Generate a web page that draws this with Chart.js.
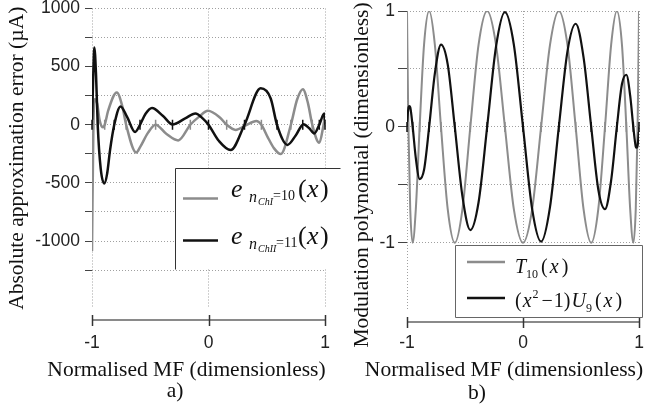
<!DOCTYPE html>
<html>
<head>
<meta charset="utf-8">
<script src="https://cdn.jsdelivr.net/npm/chart.js@4.4.0/dist/chart.umd.min.js"></script>
<style>
html, body { margin: 0; padding: 0; background: #fff; overflow: hidden; width: 646px; height: 412px; }
canvas { position: absolute; top: 0; }
#chartA { left: 0; }
#chartB { left: 330px; }
</style>
</head>
<body>
<canvas id="chartA" width="373" height="412"></canvas>
<canvas id="chartB" width="348" height="412"></canvas>
<script>
// a) absolute approximation error (uA)
const errX10 = [-1, -0.988, -0.975, -0.955, -0.935, -0.905, -0.891, -0.86, -0.787, -0.74, -0.707, -0.621, -0.586, -0.52, -0.454, -0.36, -0.26, -0.156, -0.08, -0.005, 0.10, 0.156, 0.233, 0.32, 0.41, 0.454, 0.51, 0.563, 0.621, 0.707, 0.76, 0.81, 0.855, 0.891, 0.951, 0.988, 1];
const errY10 = [-1085, 0, 220, 180, 40, -22, 0, 125, 278, 160, 0, -238, -190, -70, 0, -80, -135, 0, 70, 120, 60, 0, -44, -5, 33, 0, -110, -203, -252, 0, 215, 305, 180, 0, -155, 0, 60];
const errX11 = [-1, -0.99, -0.98, -0.965, -0.951, -0.925, -0.894, -0.87, -0.845, -0.809, -0.755, -0.70, -0.63, -0.588, -0.54, -0.485, -0.39, -0.309, -0.20, -0.112, -0.05, 0, 0.09, 0.19, 0.309, 0.448, 0.534, 0.588, 0.678, 0.75, 0.815, 0.865, 0.908, 0.951, 0.994, 1];
const errY11 = [0, 400, 665, 420, 0, -380, -505, -420, -218, 0, 158, 70, -62, 0, 95, 145, 75, 3, 55, 97, 55, 0, -140, -218, 0, 313, 226, 0, -173, -90, 5, -30, -75, 0, 96, 0];
const errTicks = [1000, 750, 500, 250, 0, -250, -500, -750, -1000, -1250];
const errLabels = [1000, 500, 0, -500, -1000];

// node marks on the zero line (ChI grey, ChII black)
const nodesChI = [-0.988, -0.891, -0.707, -0.454, -0.156, 0.156, 0.454, 0.707, 0.891, 0.988];
const nodesChII = [-1, -0.951, -0.809, -0.588, -0.309, 0, 0.309, 0.588, 0.809, 0.951, 1];

// b) modulation polynomials
const polyX = [-1, -0.997, -0.988, -0.972, -0.951, -0.924, -0.891, -0.853, -0.809, -0.760, -0.707, -0.649, -0.588, -0.522, -0.454, -0.383, -0.309, -0.233, -0.156, -0.079, 0, 0.079, 0.156, 0.233, 0.309, 0.383, 0.454, 0.522, 0.588, 0.649, 0.707, 0.760, 0.809, 0.853, 0.891, 0.924, 0.951, 0.972, 0.988, 0.997, 1];
const t10Y = [1, 0.71, 0, -0.71, -1, -0.71, 0, 0.71, 1, 0.71, 0, -0.71, -1, -0.71, 0, 0.71, 1, 0.71, 0, -0.71, -1, -0.71, 0, 0.71, 1, 0.71, 0, -0.71, -1, -0.71, 0, 0.71, 1, 0.71, 0, -0.71, -1, -0.71, 0, 0.71, 1];
const polyXU = [-1, -0.997, -0.988, -0.98, -0.972, -0.951, -0.924, -0.891, -0.853, -0.809, -0.760, -0.707, -0.649, -0.588, -0.522, -0.454, -0.383, -0.309, -0.233, -0.156, -0.079, 0, 0.079, 0.156, 0.233, 0.309, 0.383, 0.454, 0.522, 0.588, 0.649, 0.707, 0.760, 0.809, 0.853, 0.891, 0.924, 0.951, 0.972, 0.98, 0.988, 0.997, 1];
const u9Y = [0, 0.06, 0.16, 0.18, 0.17, 0, -0.27, -0.45, -0.37, 0, 0.46, 0.71, 0.54, 0, -0.60, -0.89, -0.65, 0, 0.69, 0.99, 0.71, 0, -0.71, -0.99, -0.69, 0, 0.65, 0.89, 0.60, 0, -0.54, -0.71, -0.46, 0, 0.37, 0.45, 0.27, 0, -0.17, -0.18, -0.16, -0.06, 0];
const polyTicks = [1, 0.5, 0, -0.5, -1];
const polyLabels = [1, 0, -1];

const xTicks = [-1, 0, 1];

const GRAY = '#8c8c8c';
const BLACK = '#111';
const gridColor = '#a0a0a0';
const serif = '"Liberation Serif", "Times New Roman", serif';
const sans = '"Liberation Sans", Arial, sans-serif';
const TITLE_SIZE = 21.5;

function curve(xs, ys, color, width) {
    return {
        data: xs.map((x, i) => ({ x: x, y: ys[i] })),
        borderColor: color,
        borderWidth: width,
        pointRadius: 0,
        cubicInterpolationMode: 'monotone',
        fill: false
    };
}

function marks(xs, color) {
    return {
        data: xs.map(x => ({ x: x, y: 0 })),
        showLine: false,
        clip: false,
        pointStyle: 'line',
        pointRotation: 90,
        pointRadius: 5,
        pointBorderWidth: 1.5,
        pointBorderColor: color,
        borderColor: color
    };
}

// the x axis line sits a little below the plot area, with +-shaped ticks
const lowerAxis = {
    id: 'lowerAxis',
    afterDraw(chart) {
        const ctx = chart.ctx;
        const x = chart.scales.x;
        const y = chart.chartArea.bottom + 12;
        ctx.save();
        ctx.strokeStyle = '#8a8a8a';
        ctx.lineWidth = 2;
        ctx.beginPath();
        ctx.moveTo(x.getPixelForValue(-1), y);
        ctx.lineTo(x.getPixelForValue(1), y);
        ctx.stroke();
        ctx.strokeStyle = '#333';
        ctx.lineWidth = 1.5;
        xTicks.forEach(v => {
            const px = Math.round(x.getPixelForValue(v)) + 0.5;
            ctx.beginPath();
            ctx.moveTo(px, y - 5);
            ctx.lineTo(px, y + 6);
            ctx.stroke();
        });
        ctx.restore();
    }
};

// text pieces: either at a fixed x, or flowing on from the previous piece plus a gap
function richText(ctx, x0, y, parts) {
    let x = x0;
    parts.forEach(p => {
        ctx.font = (p.i ? 'italic ' : '') + p.s + 'px ' + serif;
        const px = p.x !== undefined ? p.x : x + (p.g || 0);
        ctx.fillText(p.t, px, y + (p.dy || 0));
        x = px + ctx.measureText(p.t).width;
    });
}

const boxLegend = {
    id: 'boxLegend',
    afterDraw(chart, args, opts) {
        const ctx = chart.ctx;
        const b = opts.box;
        ctx.save();
        ctx.fillStyle = '#fff';
        ctx.fillRect(b.x, b.y, b.w, b.h);
        ctx.strokeStyle = opts.borderColor;
        ctx.lineWidth = 1;
        ctx.beginPath();
        opts.edges.forEach(e => {
            ctx.moveTo(e[0] + 0.5, e[1] + 0.5);
            ctx.lineTo(e[2] + 0.5, e[3] + 0.5);
        });
        ctx.stroke();
        opts.items.forEach(it => {
            ctx.strokeStyle = it.color;
            ctx.lineWidth = 2.5;
            ctx.beginPath();
            ctx.moveTo(it.x1, it.y);
            ctx.lineTo(it.x2, it.y);
            ctx.stroke();
            ctx.fillStyle = '#111';
            ctx.textBaseline = 'alphabetic';
            richText(ctx, it.tx, it.base, it.parts);
        });
        ctx.restore();
    }
};

// panel letter and any title that has to sit off-centre
const freeText = {
    id: 'freeText',
    afterDraw(chart, args, opts) {
        const ctx = chart.ctx;
        ctx.save();
        ctx.fillStyle = '#111';
        ctx.textAlign = 'center';
        ctx.textBaseline = 'middle';
        ctx.font = TITLE_SIZE + 'px ' + serif;
        opts.items.forEach(it => {
            ctx.save();
            ctx.translate(it.x, it.y);
            ctx.rotate(it.rot || 0);
            ctx.fillText(it.t, 0, 0);
            ctx.restore();
        });
        ctx.restore();
    }
};

function panelOptions(cfg) {
    return {
        responsive: false,
        animation: false,
        layout: { padding: cfg.padding },
        plugins: {
            legend: { display: false },
            tooltip: { enabled: false },
            title: { display: false },
            subtitle: {
                display: true, position: 'bottom', text: 'Normalised MF (dimensionless)', color: '#111',
                font: { family: serif, size: TITLE_SIZE, lineHeight: 1, weight: 'normal' },
                padding: { top: cfg.subTop, bottom: 0 }
            },
            boxLegend: cfg.legend,
            freeText: { items: cfg.texts }
        },
        scales: {
            x: {
                type: 'linear', min: -1, max: 1,
                afterBuildTicks: s => { s.ticks = xTicks.map(v => ({ value: v })); },
                afterFit: s => { s.height = 46; s.paddingLeft = 0; s.paddingRight = 0; },
                grid: { color: gridColor, drawTicks: false },
                border: { display: false, dash: [1, 2] },
                ticks: { padding: cfg.xPad, color: '#222', maxRotation: 0, font: { family: sans, size: 17.5 } }
            },
            y: {
                min: cfg.yMin, max: cfg.yMax,
                afterBuildTicks: s => { s.ticks = cfg.yTicks.map(v => ({ value: v })); },
                afterFit: s => { s.width = cfg.yWidth; s.paddingTop = 0; s.paddingBottom = 0; },
                grid: { color: gridColor, tickColor: '#444', tickLength: cfg.tickLen },
                border: { display: false, dash: [1, 2] },
                ticks: {
                    padding: cfg.yPad, color: '#222', font: { family: sans, size: 17.5 },
                    callback: v => cfg.yLabels.includes(v) ? String(v) : ''
                },
                title: {
                    display: !!cfg.yTitle, text: cfg.yTitle, color: '#111',
                    font: { family: serif, size: TITLE_SIZE, lineHeight: 1.2 },
                    padding: { top: cfg.titlePad, bottom: 0 }
                }
            },
            yPad: {
                position: 'right', min: 0, max: 1,
                grid: { display: false }, ticks: { display: false }, border: { display: false },
                afterFit: s => { s.width = cfg.rightGap; }
            }
        }
    };
}

new Chart(document.getElementById('chartA'), {
    type: 'line',
    data: {
        datasets: [
            marks(nodesChII, BLACK),
            marks(nodesChI, GRAY),
            curve(errX11, errY11, BLACK, 2.5),
            curve(errX10, errY10, GRAY, 2.5)
        ]
    },
    options: panelOptions({
        padding: { left: 0, right: 0, top: 8.5, bottom: 30.5 },
        subTop: 6, xPad: 25,
        yMin: -1576, yMax: 1000, yTicks: errTicks, yLabels: errLabels,
        yWidth: 92, tickLen: 7, yPad: 5, titlePad: 4, rightGap: 48,
        yTitle: 'Absolute approximation error (\u00b5A)',
        texts: [{ t: 'a)', x: 175, y: 391 }],
        legend: {
            box: { x: 175, y: 168, w: 165, h: 101 },
            borderColor: '#333',
            edges: [[175, 168, 175, 269], [175, 168, 340, 168]],
            items: [
                { color: GRAY, x1: 183, x2: 218, y: 198.5, tx: 231, base: 197, parts: [
                    { t: 'e', x: 231, s: 26, i: 1 }, { t: 'n', x: 249, s: 16, i: 1, dy: 5 },
                    { t: 'ChI', x: 258, s: 10, i: 1, dy: 8 }, { t: '=10', x: 273, s: 14, dy: 3 },
                    { t: '(', x: 298, s: 26 }, { t: 'x', x: 307, s: 26, i: 1 }, { t: ')', x: 320, s: 26 }
                ] },
                { color: BLACK, x1: 183, x2: 218, y: 240.5, tx: 231, base: 244, parts: [
                    { t: 'e', x: 231, s: 26, i: 1 }, { t: 'n', x: 249, s: 16, i: 1, dy: 5 },
                    { t: 'ChII', x: 258, s: 10, i: 1, dy: 8 }, { t: '=11', x: 276, s: 14, dy: 3 },
                    { t: '(', x: 298, s: 26 }, { t: 'x', x: 307, s: 26, i: 1 }, { t: ')', x: 320, s: 26 }
                ] }
            ]
        }
    }),
    plugins: [lowerAxis, boxLegend, freeText]
});

new Chart(document.getElementById('chartB'), {
    type: 'line',
    data: {
        datasets: [
            marks(nodesChII, BLACK),
            marks(nodesChI, GRAY),
            curve(polyXU, u9Y, BLACK, 2.2),
            curve(polyX, t10Y, GRAY, 2)
        ]
    },
    options: panelOptions({
        padding: { left: 0, right: 0, top: 11, bottom: 31.25 },
        subTop: 3.25, xPad: 23,
        yMin: -1.58, yMax: 1, yTicks: polyTicks, yLabels: polyLabels,
        yWidth: 77, tickLen: 9, yPad: 3, titlePad: 0, rightGap: 39,
        yTitle: '',
        texts: [
            { t: 'Modulation polynomial (dimensionless)', x: 32, y: 175, rot: -Math.PI / 2 },
            { t: 'b)', x: 147, y: 393 }
        ],
        legend: {
            box: { x: 125, y: 245, w: 187, h: 72 },
            borderColor: '#666',
            edges: [[125, 245, 312, 245], [312, 245, 312, 317], [312, 317, 125, 317], [125, 317, 125, 245]],
            items: [
                { color: GRAY, x1: 137, x2: 175, y: 262, tx: 185, base: 273, parts: [
                    { t: 'T', s: 20, i: 1 }, { t: '10', s: 12, dy: 5 },
                    { t: '(', s: 20, g: 3 }, { t: 'x', s: 20, i: 1, g: 2 }, { t: ')', s: 20, g: 3 }
                ] },
                { color: BLACK, x1: 137, x2: 175, y: 298, tx: 185, base: 307, parts: [
                    { t: '(', s: 20 }, { t: 'x', s: 20, i: 1, g: 1 }, { t: '2', s: 12, dy: -9, g: 1 },
                    { t: '\u2212', s: 20, g: 3 }, { t: '1', s: 20, g: 1 }, { t: ')', s: 20 },
                    { t: 'U', s: 20, i: 1, g: 1 }, { t: '9', s: 12, dy: 5 },
                    { t: '(', s: 20, g: 3 }, { t: 'x', s: 20, i: 1, g: 2 }, { t: ')', s: 20, g: 3 }
                ] }
            ]
        }
    }),
    plugins: [lowerAxis, boxLegend, freeText]
});
</script>
</body>
</html>
